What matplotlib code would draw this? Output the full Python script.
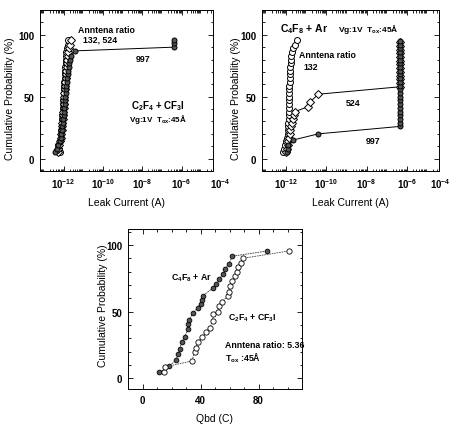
import numpy as np
import matplotlib
matplotlib.use('Agg')
import matplotlib.pyplot as plt
from matplotlib.ticker import LogLocator, MultipleLocator, NullFormatter

plt.rcParams['font.family'] = ['Liberation Sans', 'DejaVu Sans']
plt.rcParams['mathtext.fontset'] = 'custom'
plt.rcParams['mathtext.rm'] = 'Liberation Sans:bold'
plt.rcParams['mathtext.it'] = 'Liberation Sans:bold'
plt.rcParams['font.weight'] = 'bold'

# ---- panel 1: C2F4 + CF3I, leak current ----
p1 = [5, 8, 11, 14, 17, 20, 23, 26, 29, 32, 35, 38, 41, 44, 47, 50,
      53, 56, 59, 62, 65, 68, 71, 74, 77, 80, 83, 86, 89, 92, 96]
leak1_132 = [6.5e-13, 6.0e-13, 5.5e-13, 6.5e-13, 7.0e-13, 7.0e-13, 7.5e-13, 8.0e-13,
             8.0e-13, 8.5e-13, 8.5e-13, 9.0e-13, 9.0e-13, 9.5e-13, 9.5e-13, 1.0e-12,
             1.0e-12, 1.05e-12, 1.1e-12, 1.1e-12, 1.15e-12, 1.2e-12, 1.2e-12, 1.25e-12,
             1.3e-12, 1.3e-12, 1.35e-12, 1.4e-12, 1.5e-12, 1.6e-12, 1.7e-12]
leak1_524 = [5.5e-13, 5.5e-13, 6.0e-13, 6.5e-13, 7.0e-13, 7.5e-13, 8.0e-13, 8.5e-13,
             8.5e-13, 9.0e-13, 9.5e-13, 9.5e-13, 1.0e-12, 1.0e-12, 1.05e-12, 1.1e-12,
             1.1e-12, 1.15e-12, 1.2e-12, 1.25e-12, 1.3e-12, 1.35e-12, 1.4e-12, 1.45e-12,
             1.5e-12, 1.55e-12, 1.6e-12, 1.7e-12, 1.9e-12, 2.1e-12, 2.3e-12]
p1_997 = [5, 8, 11, 14, 17, 20, 23, 26, 29, 32, 35, 38, 41, 44, 47, 50,
          53, 56, 59, 62, 65, 68, 71, 74, 77, 80, 83, 87, 90, 93, 96]
leak1_997 = [3.6e-13, 4.5e-13, 5.5e-13, 6.5e-13, 7.0e-13, 7.5e-13, 8.0e-13, 8.5e-13,
             9.0e-13, 9.5e-13, 1.0e-12, 1.05e-12, 1.1e-12, 1.15e-12, 1.2e-12, 1.25e-12,
             1.3e-12, 1.35e-12, 1.4e-12, 1.5e-12, 1.55e-12, 1.6e-12, 1.7e-12, 1.8e-12,
             1.9e-12, 2.0e-12, 2.4e-12, 3.8e-12, 4.2e-7, 4.2e-7, 4.2e-7]

# ---- panel 2: C4F8 + Ar, leak current ----
p2_132 = p1
leak2_132 = [7.0e-13, 8.0e-13, 9.0e-13, 1.0e-12, 1.1e-12, 1.2e-12, 1.25e-12, 1.3e-12,
             1.3e-12, 1.35e-12, 1.35e-12, 1.4e-12, 1.4e-12, 1.4e-12, 1.4e-12, 1.45e-12,
             1.45e-12, 1.45e-12, 1.45e-12, 1.5e-12, 1.5e-12, 1.5e-12, 1.55e-12, 1.6e-12,
             1.65e-12, 1.7e-12, 1.8e-12, 2.0e-12, 2.3e-12, 2.8e-12, 3.4e-12]
p2_524 = [5, 8, 11, 14, 17, 20, 23, 26, 29, 32, 35, 38, 42, 46, 52,
          58, 61, 64, 67, 70, 73, 76, 79, 82, 85, 88, 91, 94]
leak2_524 = [1.0e-12, 1.1e-12, 1.2e-12, 1.3e-12, 1.4e-12, 1.5e-12, 1.6e-12, 1.8e-12,
             2.0e-12, 2.2e-12, 2.4e-12, 2.8e-12, 1.25e-11, 1.6e-11, 4.0e-11,
             4.5e-7, 4.5e-7, 4.5e-7, 4.5e-7, 4.5e-7, 4.5e-7, 4.5e-7, 4.5e-7,
             4.5e-7, 4.5e-7, 4.5e-7, 4.5e-7, 4.5e-7]
p2_997 = [5, 8, 11, 15, 20, 26, 29, 32, 35, 38, 41, 44, 47, 50, 53, 56,
          59, 62, 65, 68, 71, 74, 77, 80, 83, 86, 89, 92, 95]
leak2_997 = [1.1e-12, 1.2e-12, 1.3e-12, 2.2e-12, 4.0e-11, 4.5e-7, 4.5e-7, 4.5e-7,
             4.5e-7, 4.5e-7, 4.5e-7, 4.5e-7, 4.5e-7, 4.5e-7, 4.5e-7, 4.5e-7,
             4.5e-7, 4.5e-7, 4.5e-7, 4.5e-7, 4.5e-7, 4.5e-7, 4.5e-7, 4.5e-7,
             4.5e-7, 4.5e-7, 4.5e-7, 4.5e-7, 4.5e-7]

# ---- panel 3: Qbd ----
qbd_ar = [11.6, 18, 23, 24.6, 25.6, 27, 29, 31.5, 31.5, 32, 35, 38, 40, 41,
          41.6, 48.5, 51, 53, 55.4, 56.7, 59.5, 62, 86]
prob_ar = [4.5, 9, 13.5, 18, 22, 27, 31, 37, 41, 44, 49, 53, 56, 59,
           62, 67.6, 70.7, 74.4, 78, 82, 85.7, 91.6, 95.5]
qbd_cf = [14.5, 15.7, 34, 36, 37, 38, 41, 44, 46.5, 48.5, 48.5, 52, 53, 54.7,
          58.8, 59.5, 60, 62, 63.6, 65, 65.6, 67.7, 69, 101]
prob_cf = [5, 8.6, 13, 20, 23, 27, 31, 35, 38, 43, 48, 50, 54, 57,
           62, 65, 69, 73, 77, 80, 83.5, 86.5, 90, 95.5]

W, H = 452, 431
fig = plt.figure(figsize=(W / 100, H / 100), dpi=100)


def box(l, r, t, b):
    return [l / W, 1 - b / H, (r - l) / W, (b - t) / H]


ax1 = fig.add_axes(box(40, 213, 11, 172))
ax2 = fig.add_axes(box(262, 439, 11, 172))
ax3 = fig.add_axes(box(128, 302, 230, 390))

fs = 7
open_kw = dict(mfc='white', mec='black', mew=0.7, color='black', lw=0.7)
fill_kw = dict(mfc='#555555', mec='black', mew=0.7, color='black', lw=0.7)
tox = r'T$_{\rm ox}$'


def style(ax):
    ax.tick_params(which='both', direction='in', top=True, right=True,
                   labelsize=fs, width=0.6, pad=4)
    ax.tick_params(which='major', length=3.5)
    ax.tick_params(which='minor', length=1.8)
    for s in ax.spines.values():
        s.set_linewidth(0.7)
    for lab in ax.get_xticklabels() + ax.get_yticklabels():
        lab.set_fontweight('bold')


for ax, lx, tx, tha in ((ax1, -0.145, 1.040, 'center'), (ax2, -0.119, 1.068, 'right')):
    ax.set_xscale('log')
    ax.set_xlim(10 ** -13.2, 10 ** -4.4)
    ax.set_ylim(-10, 120)
    ax.set_xticks([1e-12, 1e-10, 1e-8, 1e-6])
    ax.xaxis.set_minor_locator(LogLocator(base=10, subs=np.arange(2, 10), numticks=50))
    ax.xaxis.set_minor_formatter(NullFormatter())
    ax.set_yticks([0, 50, 100])
    ax.yaxis.set_minor_locator(MultipleLocator(10))
    ax.set_xlabel('Leak Current (A)', fontsize=fs + 0.5, labelpad=5)
    ax.set_ylabel('Cumulative Probability (%)', fontsize=fs + 0.5)
    ax.yaxis.set_label_coords(lx, 0.453)
    style(ax)
    ax.text(tx, -0.034, r'$\mathdefault{10^{-4}}$', transform=ax.transAxes, ha=tha,
            va='top', fontsize=fs, clip_on=False)

# panel 1
ax1.plot(leak1_132, p1, 'o', ms=4.3, **open_kw)
ax1.plot(leak1_524, p1, 'D', ms=3.6, **open_kw)
ax1.plot(leak1_997, p1_997, 'o-', ms=3.6, **fill_kw)
ax1.text(1.45e-10, 104, 'Anntena ratio', fontsize=6.3, ha='center', va='center')
ax1.text(7e-11, 96.5, '132, 524', fontsize=6.3, ha='center', va='center')
ax1.text(1.1e-8, 81, '997', fontsize=6.3, ha='center', va='center')
ax1.text(6.4e-8, 43, r'C$_2$F$_4$ + CF$_3$I', fontsize=7, ha='center', va='center')
ax1.text(6.4e-8, 32, 'Vg:1V  ' + tox + r':45$\rm\AA$', fontsize=5.8,
         ha='center', va='center')

# panel 2
ax2.plot(leak2_132, p2_132, 'o', ms=4.3, **open_kw)
ax2.plot(leak2_524, p2_524, 'D-', ms=3.6, **open_kw)
ax2.plot(leak2_997, p2_997, 'o-', ms=3.6, **fill_kw)
ax2.text(7.8e-12, 105, r'C$_4$F$_8$ + Ar', fontsize=7.5, ha='center', va='center')
ax2.text(1.2e-8, 105, 'Vg:1V  ' + tox + r':45$\rm\AA$', fontsize=6,
         ha='center', va='center')
ax2.text(4.4e-12, 84, 'Anntena ratio', fontsize=6.3, ha='left', va='center')
ax2.text(1.7e-11, 74, '132', fontsize=6.3, ha='center', va='center')
ax2.text(2.1e-9, 45.5, '524', fontsize=6.3, ha='center', va='center')
ax2.text(2.1e-8, 14.5, '997', fontsize=6.3, ha='center', va='center')

# panel 3
ax3.plot(qbd_ar, prob_ar, 'o-', ms=3.4, mfc='#555555', mec='black', mew=0.6,
         color='#333333', lw=0.6, ls=(0, (2, 1)))
ax3.plot(qbd_cf, prob_cf, 'o-', ms=3.8, mfc='white', mec='black', mew=0.6,
         color='#444444', lw=0.6, ls=(0, (2, 1)))
ax3.set_xlim(-10, 110)
ax3.set_ylim(-8, 112)
ax3.set_xticks([0, 40, 80])
ax3.xaxis.set_minor_locator(MultipleLocator(10))
ax3.set_yticks([0, 50, 100])
ax3.yaxis.set_minor_locator(MultipleLocator(10))
ax3.set_xlabel('Qbd (C)', fontsize=fs + 0.5, labelpad=6)
ax3.set_ylabel('Cumulative Probability (%)', fontsize=fs + 0.5)
ax3.yaxis.set_label_coords(-0.115, 0.53)
style(ax3)
ax3.text(34, 76, r'C$_4$F$_8$ + Ar', fontsize=6.3, ha='center', va='center')
ax3.text(76, 46, r'C$_2$F$_4$ + CF$_3$I', fontsize=6.3, ha='center', va='center')
ax3.text(57, 25.5, 'Anntena ratio: 5.36', fontsize=6.3, ha='left', va='center')
ax3.text(57, 16, tox + r' :45$\rm\AA$', fontsize=6.3, ha='left', va='center')

fig.savefig('out.png', dpi=100)
